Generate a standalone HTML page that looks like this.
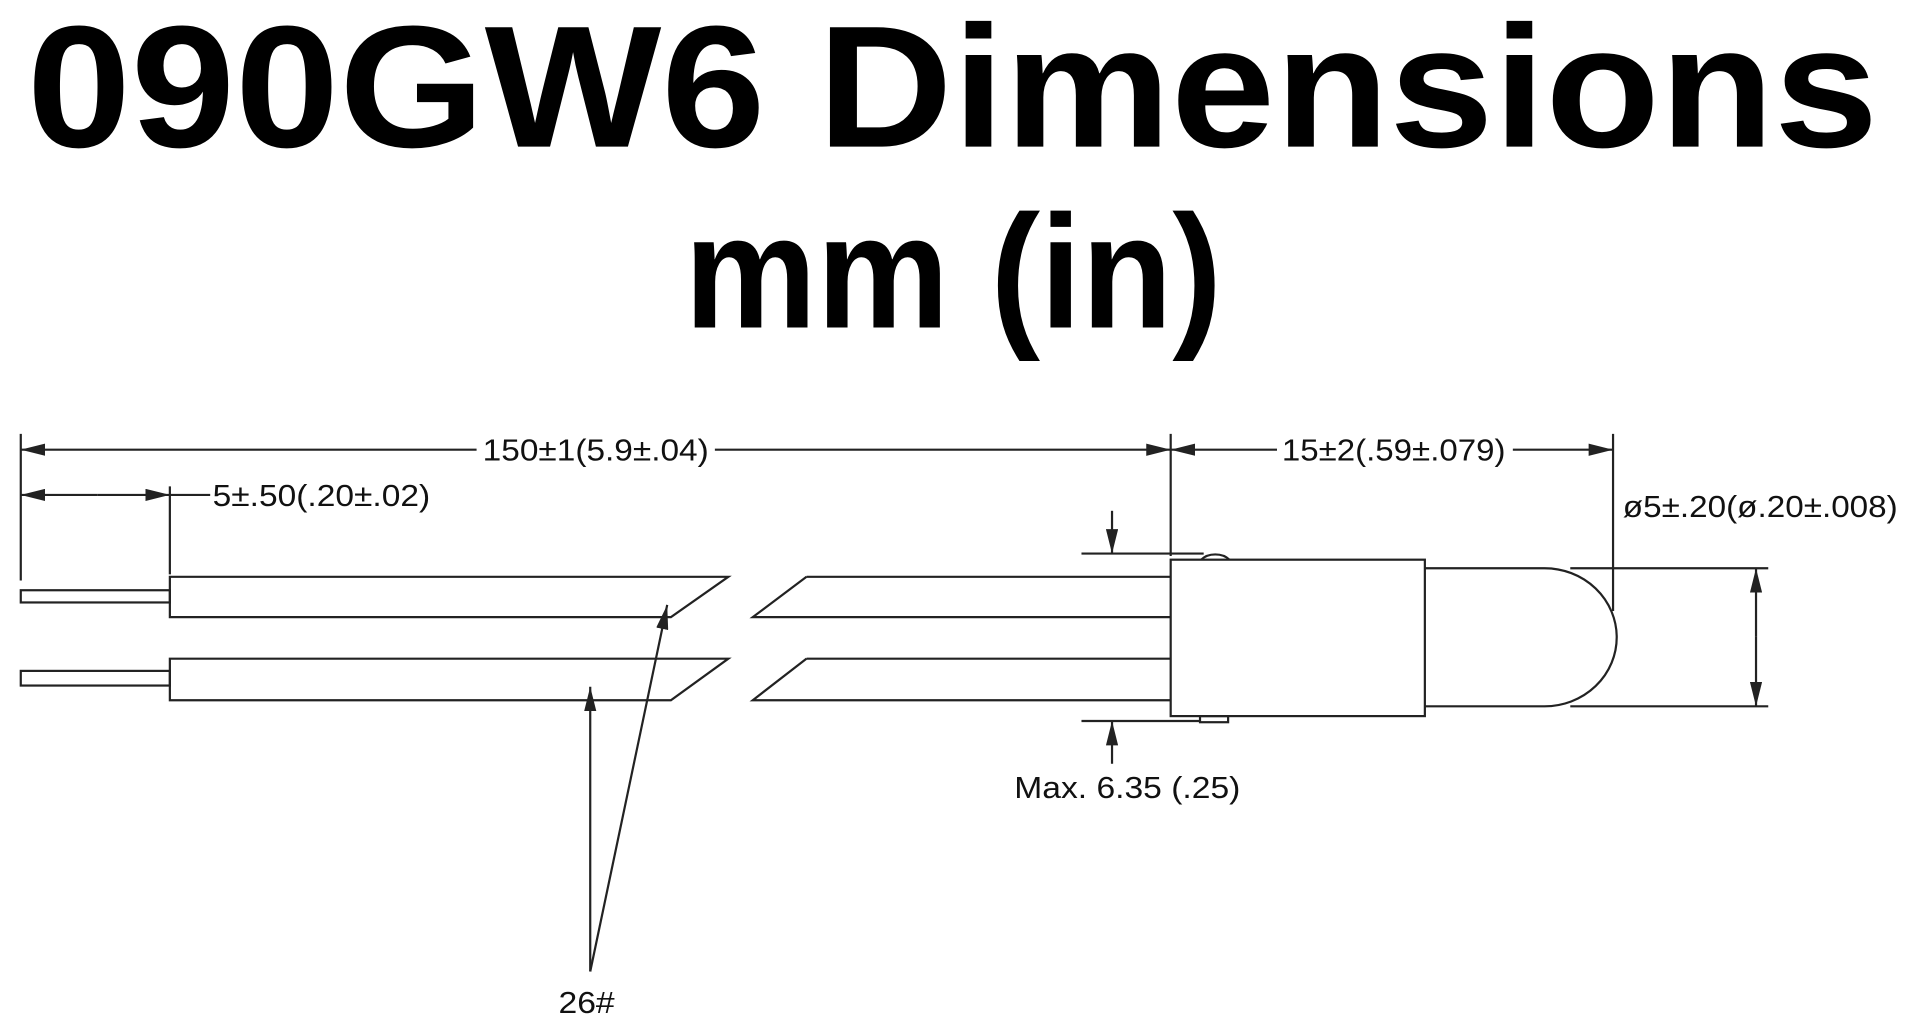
<!DOCTYPE html>
<html><head><style>html,body{margin:0;padding:0;background:#fff;}svg{display:block}</style></head>
<body>
<svg width="1910" height="1021" viewBox="0 0 1563 835.5" xmlns="http://www.w3.org/2000/svg">
<defs>
<marker id="a" viewBox="0 0 20 10" refX="20" refY="5" markerWidth="20" markerHeight="10" markerUnits="userSpaceOnUse" orient="auto"><path d="M0,0 L20,5 L0,10 z" fill="#222"/></marker>
</defs>
<g font-family="Liberation Sans, Arial, sans-serif" font-weight="bold" fill="#000">
<text x="22" y="120" font-size="142" textLength="1515" lengthAdjust="spacingAndGlyphs">090GW6 Dimensions</text>
<text x="560" y="268" font-size="132" textLength="440" lengthAdjust="spacingAndGlyphs">mm (in)</text>
</g>
<g stroke="#222" stroke-width="1.8" fill="none">
<line x1="17" y1="355" x2="17" y2="475"/>
<line x1="958" y1="355" x2="958" y2="455"/>
<line x1="1320" y1="355" x2="1320" y2="500"/>
<line x1="139" y1="398" x2="139" y2="470"/>
<line x1="390" y1="368" x2="17" y2="368" marker-end="url(#a)"/>
<line x1="585" y1="368" x2="958" y2="368" marker-end="url(#a)"/>
<line x1="1045" y1="368" x2="958" y2="368" marker-end="url(#a)"/>
<line x1="1238" y1="368" x2="1320" y2="368" marker-end="url(#a)"/>
<line x1="80" y1="405" x2="17" y2="405" marker-end="url(#a)"/>
<line x1="80" y1="405" x2="139" y2="405" marker-end="url(#a)"/>
<line x1="139" y1="405" x2="172" y2="405"/>
<rect x="17" y="483" width="122" height="10"/>
<rect x="17" y="549" width="122" height="12"/>
<path d="M139,472 L596,472 L549,505 L139,505 Z"/>
<path d="M139,539 L596,539 L549,573 L139,573 Z"/>
<path d="M660,472 L958,472 M958,505 L616,505 L660,472"/>
<path d="M660,539 L958,539 M958,573 L616,573 L660,539"/>
<rect x="958" y="458" width="208" height="128"/>
<path d="M983,458 A14,10 0 0 1 1006,458"/>
<rect x="982" y="586" width="23" height="5"/>
<path d="M1166,465 L1264,465 A59,56.5 0 0 1 1264,578 L1166,578"/>
<line x1="1285" y1="465" x2="1447" y2="465"/>
<line x1="1285" y1="578" x2="1447" y2="578"/>
<line x1="1437" y1="521" x2="1437" y2="465" marker-end="url(#a)"/>
<line x1="1437" y1="521" x2="1437" y2="578" marker-end="url(#a)"/>
<line x1="885" y1="453" x2="985" y2="453"/>
<line x1="885" y1="590" x2="982" y2="590"/>
<line x1="910" y1="418" x2="910" y2="453" marker-end="url(#a)"/>
<line x1="910" y1="625" x2="910" y2="590" marker-end="url(#a)"/>
<line x1="483" y1="795" x2="546" y2="495" marker-end="url(#a)"/>
<line x1="483" y1="795" x2="483" y2="562" marker-end="url(#a)"/>
</g>
<g font-family="Liberation Sans, Arial, sans-serif" font-size="25" fill="#111">
<text x="395" y="377" textLength="185" lengthAdjust="spacingAndGlyphs">150±1(5.9±.04)</text>
<text x="1049" y="377" textLength="183" lengthAdjust="spacingAndGlyphs">15±2(.59±.079)</text>
<text x="174" y="414" textLength="178" lengthAdjust="spacingAndGlyphs">5±.50(.20±.02)</text>
<text x="1328" y="423" textLength="225" lengthAdjust="spacingAndGlyphs">ø5±.20(ø.20±.008)</text>
<text x="830" y="653" textLength="185" lengthAdjust="spacingAndGlyphs">Max. 6.35 (.25)</text>
<text x="457" y="829" textLength="46" lengthAdjust="spacingAndGlyphs">26#</text>
</g>
</svg>
</body></html>
